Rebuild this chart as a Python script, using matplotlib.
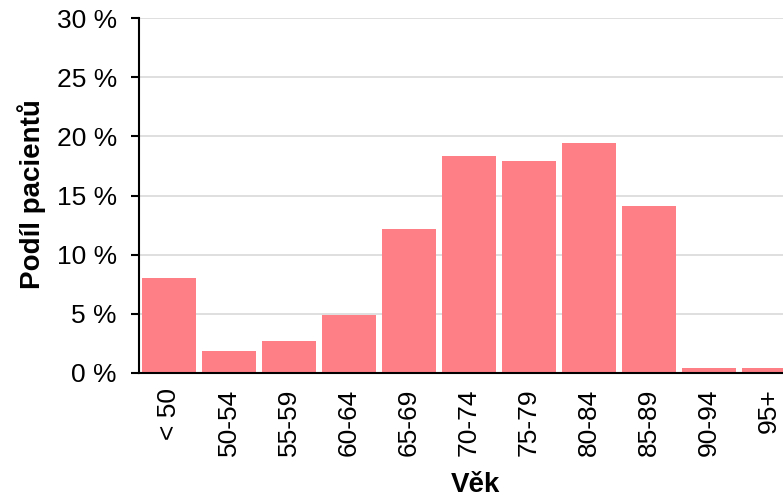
import matplotlib.pyplot as plt
from matplotlib.ticker import FuncFormatter

age_groups = ['< 50', '50-54', '55-59', '60-64', '65-69', '70-74',
              '75-79', '80-84', '85-89', '90-94', '95+']
share_pct = [8.0, 1.9, 2.7, 4.9, 12.2, 18.3, 17.9, 19.4, 14.1, 0.4, 0.4]

plt.rcParams['font.family'] = ['Liberation Sans', 'DejaVu Sans']

fig = plt.figure(figsize=(7.83, 5.01), dpi=100)
ax = fig.add_axes([139 / 783, 1 - 373 / 501, 1 - 139 / 783, (373 - 18) / 501])

x = list(range(len(age_groups)))
ax.bar(x, share_pct, width=0.9, color='#ff7f86', zorder=2)

ax.set_xlim(-0.5, 10.24)
ax.set_ylim(0, 30)
ax.set_yticks([0, 5, 10, 15, 20, 25, 30])
ax.yaxis.set_major_formatter(FuncFormatter(lambda v, p: f'{v:.0f} %'))
ax.grid(axis='y', color='#d9d9d9', linewidth=1.2, zorder=0)

ax.set_xticks(x)
ax.set_xticklabels(age_groups, rotation=90, fontsize=19)
ax.tick_params(axis='x', length=0, pad=11)
ax.tick_params(axis='y', length=6, width=1.5, pad=10, labelsize=19)

for s in ['top', 'right']:
    ax.spines[s].set_visible(False)
ax.spines['left'].set_linewidth(1.5)
ax.spines['bottom'].set_linewidth(1.5)

ax.set_xlabel('Věk', fontsize=20, fontweight='bold')
ax.set_ylabel('Podíl pacientů', fontsize=20, fontweight='bold')
ax.xaxis.set_label_coords(0.522, -0.279)
ax.yaxis.set_label_coords(-0.145, 0.505)

fig.savefig('out.png', dpi=100)
